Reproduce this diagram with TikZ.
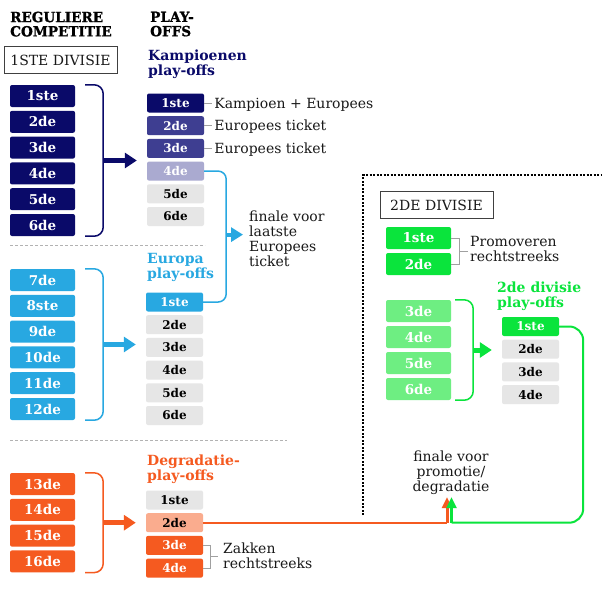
\documentclass[tikz,border=0pt]{standalone}
\usepackage{fontspec}
\setmainfont{DejaVu Serif}
\usetikzlibrary{arrows.meta,calc,positioning}

\definecolor{navy}{RGB}{10,10,105}
\definecolor{indigo}{RGB}{62,62,145}
\definecolor{lavender}{RGB}{170,170,208}
\definecolor{boxgray}{RGB}{230,230,230}
\definecolor{skyblue}{RGB}{40,168,225}
\definecolor{flame}{RGB}{245,90,32}
\definecolor{salmon}{RGB}{250,172,142}
\definecolor{grass}{RGB}{10,228,60}
\definecolor{mint}{RGB}{110,238,130}
\definecolor{rulegray}{RGB}{160,160,160}

\begin{document}
\begin{tikzpicture}[x=1pt,y=-1pt]
\tikzset{rankbox/.style={rounded corners=2pt,minimum width=65pt,minimum height=22pt,inner sep=0pt,text=white,font=\bfseries\fontsize{13.5}{13.5}\selectfont},
  pobox/.style={rounded corners=2pt,minimum width=57pt,minimum height=19pt,inner sep=0pt,font=\bfseries\fontsize{12}{12}\selectfont},
  headtxt/.style={anchor=north west,align=left,inner sep=0pt,font=\bfseries\fontsize{14}{15}\selectfont},
  bighead/.style={headtxt,font=\bfseries\fontsize{14}{14.3}\selectfont\addfontfeatures{FakeStretch=#1,FakeBold=1}},
  notetxt/.style={inner sep=0pt,align=left,text=black!90,font=\fontsize{14}{15}\selectfont},
  divbox/.style={draw=black!75,line width=0.8pt,minimum width=113pt,minimum height=27pt,inner sep=0pt,text=black!90,font=\fontsize{14}{14}\selectfont},
  bracket/.style={line width=1.5pt,rounded corners=9pt},
  fatarrow/.style={line width=5pt,-{Triangle[length=12pt,width=15pt]}},
  uparrow/.style={line width=3pt,-{Triangle[length=11pt,width=10pt]}},
  tickline/.style={draw=rulegray,line width=1pt},
  sepline/.style={draw=black!30,line width=0.7pt,dash pattern=on 3pt off 2pt}}
\fill[white] (0,0) rectangle (602,602);

\node[bighead=0.97] (hreg) at (10,11.5) {REGULIERE\\COMPETITIE};
\node[bighead=0.97] (hpo) at (150,11.5) {PLAY-\\OFFS};
\node[divbox] (div1) at (60.5,60) {1STE DIVISIE};
\node[divbox] (div2) at (436.5,205) {2DE DIVISIE};
\node[headtxt,text=navy] (hkam) at (148,49.5) {Kampioenen\\play-offs};
\node[headtxt,text=skyblue] (heur) at (147,253.5) {Europa\\play-offs};
\node[headtxt,text=flame] (hdeg) at (147,455) {Degradatie-\\play-offs};
\node[headtxt,text=grass] (hdiv) at (497,281.5) {2de divisie\\play-offs};

\foreach \t [count=\i] in {1ste,2de,3de,4de,5de,6de}
  \node[rankbox,fill=navy] (a\i) at (42.5,{96+25.8*(\i-1)}) {\t};
\foreach \t [count=\i] in {7de,8ste,9de,10de,11de,12de}
  \node[rankbox,fill=skyblue] (b\i) at (42.5,{280+25.8*(\i-1)}) {\t};
\foreach \t [count=\i] in {13de,14de,15de,16de}
  \node[rankbox,fill=flame] (c\i) at (42.5,{484+25.8*(\i-1)}) {\t};
\foreach \t/\f [count=\i] in {1ste/grass,2de/grass,3de/mint,4de/mint,5de/mint,6de/mint}
  \node[rankbox,fill=\f] (g\i) at (418.5,{238+26*(\i-1)+21*(\i>2)}) {\t};

\foreach \t/\f/\c [count=\i] in {1ste/navy/white,2de/indigo/white,3de/indigo/white,4de/lavender/white,5de/boxgray/black,6de/boxgray/black}
  \node[pobox,fill=\f,text=\c] (k\i) at (175.5,{103+22.7*(\i-1)}) {\t};
\foreach \t/\f/\c [count=\i] in {1ste/skyblue/white,2de/boxgray/black,3de/boxgray/black,4de/boxgray/black,5de/boxgray/black,6de/boxgray/black}
  \node[pobox,fill=\f,text=\c] (e\i) at (174.5,{302+22.7*(\i-1)}) {\t};
\foreach \t/\f/\c [count=\i] in {1ste/boxgray/black,2de/salmon/black,3de/flame/white,4de/flame/white}
  \node[pobox,fill=\f,text=\c] (d\i) at (174.5,{500+22.7*(\i-1)}) {\t};
\foreach \t/\f/\c [count=\i] in {1ste/grass/white,2de/boxgray/black,3de/boxgray/black,4de/boxgray/black}
  \node[pobox,fill=\f,text=\c] (t\i) at (530.5,{326.5+22.7*(\i-1)}) {\t};

\draw[sepline] (10,245) -- (205,245);
\draw[sepline] (10,440) -- (287,440);
\draw[line width=1.1pt,dash pattern=on 2pt off 1.5pt] (363,515) -- (363,175) -- (601,175);

\draw[bracket,navy] ($(a1.north east)+(10,0)$) -- ++(18,0) |- ($(a6.south east)+(10,0)$);
\coordinate (am) at ($(a1.north east)!.5!(a6.south east)+(28,0)$);
\draw[fatarrow,navy] (am) -- ($(am -| k1.west)+(-10,0)$);
\draw[bracket,skyblue] ($(b1.north east)+(10,0)$) -- ++(18,0) |- ($(b6.south east)+(10,0)$);
\coordinate (bm) at ($(b1.north east)!.5!(b6.south east)+(28,0)$);
\draw[fatarrow,skyblue] (bm) -- ($(bm -| e1.west)+(-10,0)$);
\draw[bracket,flame] ($(c1.north east)+(10,0)$) -- ++(18,0) |- ($(c4.south east)+(10,0)$);
\coordinate (cm) at ($(c1.north east)!.5!(c4.south east)+(28,0)$);
\draw[fatarrow,flame] (cm) -- ($(cm -| d1.west)+(-10,0)$);
\draw[bracket,grass] ($(g3.north east)+(4,0)$) -- ++(18,0) |- ($(g6.south east)+(4,0)$);
\coordinate (gm) at ($(g3.north east)!.5!(g6.south east)+(22,0)$);
\draw[fatarrow,grass] (gm) -- ($(gm -| t1.west)+(-10,0)$);

\foreach \i/\t in {1/Kampioen + Europees,2/Europees ticket,3/Europees ticket}{
  \node[notetxt,anchor=base west] (n\i) at ([xshift=10pt,yshift=-5pt]k\i.east) {\t};
  \draw[tickline] (k\i.east) -- ($(n\i.west |- k\i.east)+(-2,0)$);
}

\node[notetxt,anchor=north west] (fin1) at (249,210.5) {\fontsize{14}{15.5}\selectfont finale voor\\laatste\\Europees\\ticket};
\coordinate (bj) at ($(k4.east)+(22,0)$);
\draw[skyblue,line width=1.5pt,rounded corners=8pt] (k4.east) -- (bj) |- (e1.east);
\coordinate (fa) at ($(fin1.west)+(-6,-4)$);
\draw[skyblue,line width=4pt,-{Triangle[length=12pt,width=14pt]}] (bj |- fa) -- (fa);

\node[notetxt,anchor=north west] (prom) at (470,236.5) {Promoveren\\rechtstreeks};
\draw[tickline] (g1.east) -- ++(8,0) |- (g2.east);
\draw[tickline] ($(g1.east)!.5!(g2.east)+(8,0)$) -- ++(9,0);
\node[notetxt,anchor=north west] (zak) at (223,543) {Zakken\\rechtstreeks};
\draw[tickline] (d3.east) -- ++(7,0) |- (d4.east);
\draw[tickline] ($(d3.east)!.5!(d4.east)+(7,0)$) -- ++(8,0);

\node[notetxt,align=center,anchor=north] (fin2) at (451,451) {finale voor\\promotie/\\degradatie};
\coordinate (ot) at ($(fin2.south)+(-4,2)$);
\coordinate (gt) at ($(fin2.south)+(0.5,2)$);
\draw[flame,line width=2pt] (d2.east) -- (d2.east -| ot);
\draw[flame,uparrow] (d2.east -| ot) -- (ot);
\draw[grass,line width=2pt,rounded corners=14pt] (t1.east) -- ++(24,0) |- (d2.east -| gt);
\draw[grass,uparrow] (d2.east -| gt) -- (gt);
\end{tikzpicture}
\end{document}
